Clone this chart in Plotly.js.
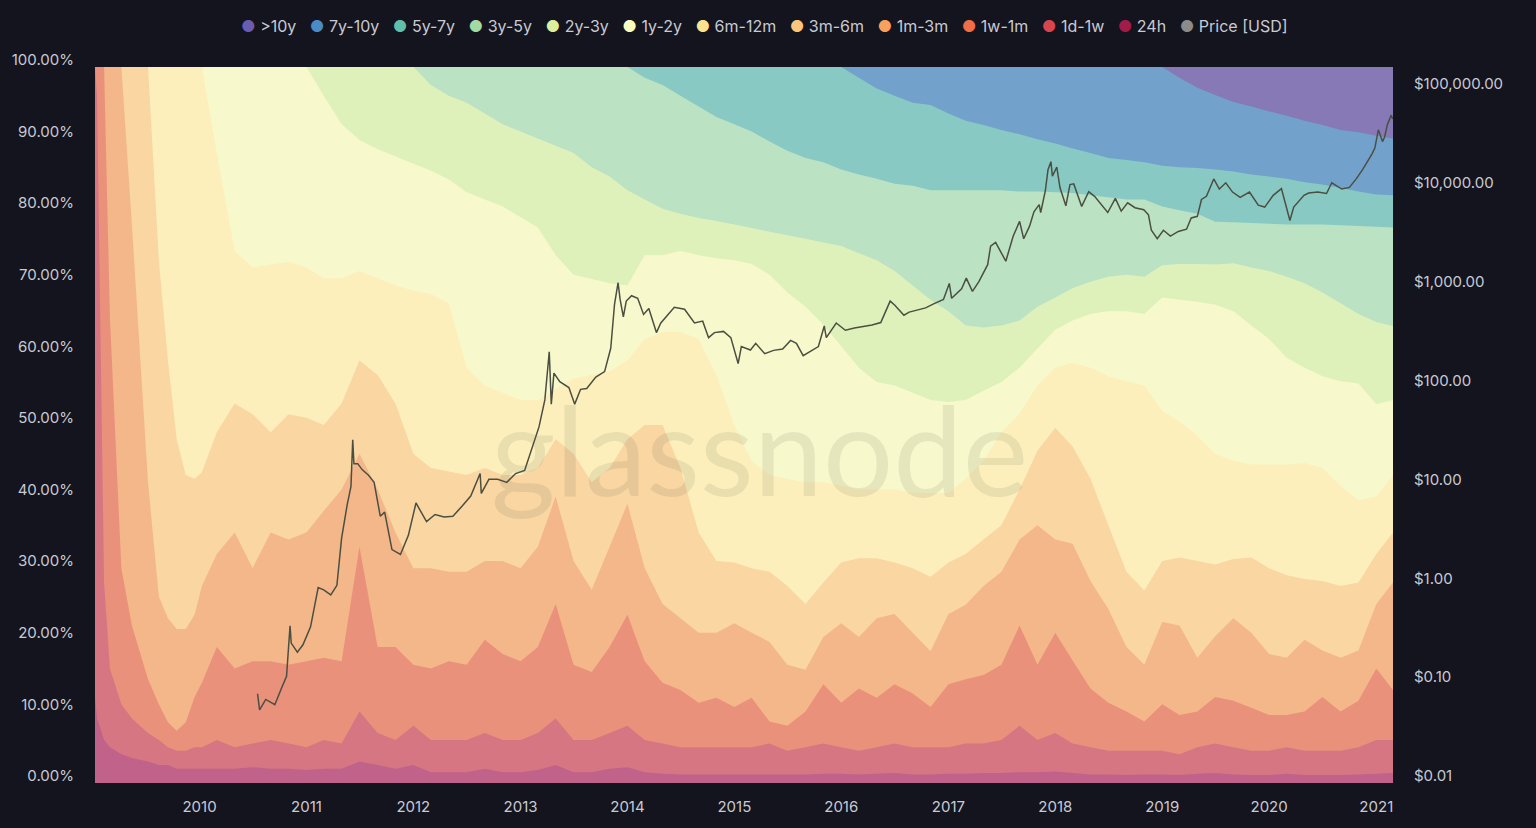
<!DOCTYPE html>
<html>
<head>
<meta charset="utf-8">
<script src="https://cdn.plot.ly/plotly-3.0.1.min.js"></script>
<style>
  html, body { margin: 0; padding: 0; background: #13141e; }
  #chart { width: 1536px; height: 828px; }
</style>
</head>
<body>
<div id="chart"></div>
<script>
// sample dates of the HODL waves (one value per date in every band array)
var dates = [
  '2009-01-09','2009-01-16','2009-02-09','2009-03-01','2009-04-09','2009-05-15','2009-07-09','2009-08-15','2009-09-15','2009-10-15','2009-11-15','2009-12-15',
  '2010-01-09','2010-03-01','2010-05-01','2010-07-01','2010-09-01','2010-11-01',
  '2011-01-01','2011-03-01','2011-05-01','2011-07-01','2011-09-01','2011-11-01',
  '2012-01-01','2012-03-01','2012-05-01','2012-07-01','2012-09-01','2012-11-01',
  '2013-01-01','2013-03-01','2013-05-01','2013-07-01','2013-09-01','2013-11-01',
  '2014-01-01','2014-03-01','2014-05-01','2014-07-01','2014-09-01','2014-11-01',
  '2015-01-01','2015-03-01','2015-05-01','2015-07-01','2015-09-01','2015-11-01',
  '2016-01-01','2016-03-01','2016-05-01','2016-07-01','2016-09-01','2016-11-01',
  '2017-01-01','2017-03-01','2017-05-01','2017-07-01','2017-09-01','2017-11-01',
  '2018-01-01','2018-03-01','2018-05-01','2018-07-01','2018-09-01','2018-11-01',
  '2019-01-01','2019-03-01','2019-05-01','2019-07-01','2019-09-01','2019-11-01',
  '2020-01-01','2020-03-01','2020-05-01','2020-07-01','2020-09-01','2020-11-01',
  '2021-01-01','2021-02-27'
];

// share of supply (%) younger than each age
var under24h = [
  12, 9, 6, 5, 4, 3.5, 3, 2.5, 2.5, 2, 2, 2,
  2, 2, 2, 2.2, 2, 2,
  1.8, 2, 2, 3, 2.5, 2,
  2.5, 1.5, 1.5, 1.5, 2, 1.5,
  1.5, 1.8, 2.5, 1.5, 1.5, 2,
  2.2, 1.5, 1.3, 1.2, 1.2, 1.2,
  1.2, 1.2, 1.2, 1.2, 1.2, 1.3,
  1.3, 1.2, 1.3, 1.4, 1.2, 1.2,
  1.3, 1.3, 1.4, 1.4, 1.5, 1.5,
  1.6, 1.4, 1.2, 1.2, 1.1, 1.2,
  1.2, 1.1, 1.3, 1.4, 1.2, 1.1,
  1.1, 1.3, 1.1, 1.1, 1.1, 1.2,
  1.3, 1.4
];
var under1w = [
  100, 96, 28, 16, 11, 9, 7, 6, 5, 4.5, 4.5, 5,
  5, 6, 5, 5.5, 6, 5.5,
  5, 6, 5.5, 10, 7, 6,
  8, 6, 6, 6, 7, 6,
  6, 7, 9, 6, 6, 7,
  8, 6, 5.5, 5, 5, 5,
  5, 5, 5.5, 4.5, 5, 5.5,
  5, 4.5, 5, 5.5, 5, 5,
  5, 5.5, 5.5, 6, 8, 6,
  7, 5.5, 5, 4.5, 4.5, 4.5,
  4.5, 4, 5, 5.5, 5, 4.5,
  4.5, 5, 4.5, 4.5, 4.5, 5,
  6, 6
];
var under1m = [
  100, 100, 100, 65, 30, 22, 14.5, 11, 8.5, 7.3, 8.5, 12,
  14, 19, 16, 17, 17, 16.5,
  17, 17.5, 17, 33, 19, 19,
  16.5, 16, 17, 16.5, 20, 18,
  17, 19, 25, 16.5, 15.5, 19,
  23.5, 17, 14, 13, 11.2, 11.9,
  10.6, 11.9, 8.6, 8, 10, 13.8,
  11.2, 13.2, 11.9, 13.8, 12.5, 10.6,
  13.8, 14.5, 15.1, 16.5, 22, 16.5,
  21, 17.1, 13.2, 11.2, 10, 8.6,
  11, 9.5, 10, 12, 11.5, 10.5,
  9.5, 9.5, 10, 12, 10, 11.5,
  16, 13
];
var under3m = [
  100, 100, 100, 100, 100, 78, 42, 26, 23, 21.5, 21.5, 23.5,
  27.5, 32, 35, 30, 35, 34,
  35, 38, 41, 46, 41, 35,
  30, 30, 29.5, 29.5, 31, 31,
  30, 33, 40, 31, 27, 33,
  39, 30, 25, 23, 21, 21,
  22.3, 21, 19.7, 16.5, 15.8, 20.4,
  22.3, 20.4, 23, 23.6, 21, 18.4,
  23.6, 24.9, 27.5, 29.5, 34, 36,
  34, 33.4, 28.2, 24.3, 19, 16.5,
  22.5, 22, 17.5, 20.5, 23, 21,
  18, 17.5, 20, 18.5, 17.5, 18.5,
  25, 28
];
var under6m = [
  100, 100, 100, 100, 100, 100, 100, 73, 59, 48, 43, 42.5,
  43.4, 49, 53, 51.5, 49, 51.5,
  51, 50, 53, 59, 57, 53,
  46, 44, 43.5, 43, 44, 43,
  43, 44, 48, 46, 42, 44,
  48, 50, 50, 44, 35, 31,
  30.8, 30, 29.5, 27.5, 25, 28,
  30.8, 31.4, 31.4, 30.8, 30, 28.8,
  30.8, 32, 34, 36, 41, 46.4,
  49.6, 47, 42.5, 36, 29.5, 26.9,
  31, 31.5, 31, 30.5, 31.3, 31.5,
  30, 29, 28.5, 28.2, 27.5, 28,
  32, 35
];
var under12m = [
  100, 100, 100, 100, 100, 100, 100, 100, 100, 100, 100, 100,
  100, 88, 74.3, 72, 72.4, 72.8,
  72, 70.5, 70.5, 71.5, 70.5, 69.5,
  68.8, 68.3, 67, 58, 55.5, 54.5,
  53.5, 53.5, 55, 56.5, 57, 57.5,
  59, 62, 63, 63, 62, 57,
  50, 45, 43, 42.5, 42, 42,
  41.5, 41, 41, 41, 40.5, 40.5,
  40.5, 42.5, 45, 49, 51.6, 55.5,
  58, 58.7, 58, 56.8, 56.1, 55.5,
  52, 50.5, 48.5, 46, 45, 44.5,
  44.5, 44.5, 44.7, 44, 41.5, 39.5,
  40, 43
];
var under2y = [
  100, 100, 100, 100, 100, 100, 100, 100, 100, 100, 100, 100,
  100, 100, 100, 100, 100, 100,
  100, 96, 92, 89.8, 88.5, 87.5,
  86.5, 85.5, 84.3, 82.5, 81.5, 80.5,
  79, 77.6, 73.7, 71, 70.4, 69.8,
  69.5, 73.7, 73.7, 74.3, 73.7, 73.3,
  73, 72.5, 71, 68.5, 66.5, 64,
  61, 58, 56, 55.5, 54.5, 53.5,
  53.2, 53.5, 54.8, 56, 58, 60.7,
  63.3, 64.6, 65.5, 65.9, 65.9, 65.5,
  67.8, 67.5, 67.2, 66.8, 65.9, 63.9,
  62, 59.4, 58, 56.8, 56.1, 55.8,
  52.9, 53.5
];
var under3y = [
  100, 100, 100, 100, 100, 100, 100, 100, 100, 100, 100, 100,
  100, 100, 100, 100, 100, 100,
  100, 100, 100, 100, 100, 100,
  100, 97.5, 96, 95, 93.5, 92,
  91, 90, 89, 88, 86, 84.7,
  82.8, 81.5, 80.2, 79.5, 78.9, 78.5,
  78, 77.5, 77, 76.5, 76, 75.5,
  75, 74, 73, 71.5, 69.5, 67.5,
  65.9, 63.9, 63.6, 63.9, 64.6, 66.5,
  67.8, 69.1, 70, 70.7, 71, 70.7,
  72.3, 72.5, 72.5, 72.4, 72.6, 72,
  71.5, 70.7, 69.8, 68.5, 67, 65.5,
  64.4, 63.8
];
var under5y = [
  100, 100, 100, 100, 100, 100, 100, 100, 100, 100, 100, 100,
  100, 100, 100, 100, 100, 100,
  100, 100, 100, 100, 100, 100,
  100, 100, 100, 100, 100, 100,
  100, 100, 100, 100, 100, 100,
  100, 98.5, 97.5, 96, 94.5, 93,
  92, 91, 89.6, 88.3, 87.3, 86.7,
  85.7, 85, 84.4, 83.7, 83.4, 82.8,
  82.8, 82.8, 82.8, 82.8, 82.6, 82.6,
  82.5, 82.4, 82.1, 81.8, 81.5, 81.5,
  80.5, 80, 79.5, 78.4, 78.3, 78.2,
  78.1, 78, 78, 78, 77.9, 77.8,
  77.7, 77.6
];
var under7y = [
  100, 100, 100, 100, 100, 100, 100, 100, 100, 100, 100, 100,
  100, 100, 100, 100, 100, 100,
  100, 100, 100, 100, 100, 100,
  100, 100, 100, 100, 100, 100,
  100, 100, 100, 100, 100, 100,
  100, 100, 100, 100, 100, 100,
  100, 100, 100, 100, 100, 100,
  100, 98.5, 97, 96, 95, 94.7,
  93.5, 92.5, 91.9, 91.2, 90.6, 89.9,
  89.3, 88.6, 88, 87.3, 87, 86.7,
  86.2, 86, 85.9, 85.7, 85.4, 85,
  84.7, 84.4, 83.9, 83.6, 83.1, 82.6,
  82.2, 82.1
];
var under10y = [
  100, 100, 100, 100, 100, 100, 100, 100, 100, 100, 100, 100,
  100, 100, 100, 100, 100, 100,
  100, 100, 100, 100, 100, 100,
  100, 100, 100, 100, 100, 100,
  100, 100, 100, 100, 100, 100,
  100, 100, 100, 100, 100, 100,
  100, 100, 100, 100, 100, 100,
  100, 100, 100, 100, 100, 100,
  100, 100, 100, 100, 100, 100,
  100, 100, 100, 100, 100, 100,
  100, 98.5, 97.1, 96.1, 95.1, 94.5,
  93.8, 93.2, 92.5, 91.9, 91.2, 90.9,
  90.4, 90
];
// whole supply, for the oldest band
var totalDates = ['2009-01-09', '2021-02-27'];
var totalShare = [100, 100];

// BTC price (USD)
var priceDates = [
  '2010-07-18','2010-07-25','2010-08-15','2010-09-15','2010-10-07','2010-10-25','2010-11-06','2010-11-10','2010-12-01','2010-12-20',
  '2011-01-15','2011-02-10','2011-03-01','2011-03-25','2011-04-15','2011-05-01','2011-05-20','2011-06-02','2011-06-08','2011-06-12',
  '2011-06-25','2011-07-10','2011-08-01','2011-08-20','2011-09-10','2011-09-25','2011-10-20','2011-11-18','2011-12-15',
  '2012-01-10','2012-02-15','2012-03-15','2012-04-15','2012-05-15','2012-06-15','2012-07-15','2012-08-16','2012-08-20','2012-09-15',
  '2012-10-15','2012-11-15','2012-12-15',
  '2013-01-15','2013-02-15','2013-03-05','2013-03-25','2013-04-09','2013-04-16','2013-04-25','2013-05-15','2013-06-15','2013-07-05',
  '2013-07-25','2013-08-15','2013-09-15','2013-10-15','2013-11-05','2013-11-18','2013-11-30','2013-12-07','2013-12-18','2013-12-28',
  '2014-01-15','2014-02-05','2014-02-25','2014-03-15','2014-04-10','2014-04-25','2014-05-25','2014-06-10','2014-07-15','2014-08-18',
  '2014-09-15','2014-10-05','2014-10-25','2014-11-25','2014-12-20',
  '2015-01-14','2015-01-25','2015-02-25','2015-03-15','2015-04-15','2015-05-15','2015-06-15','2015-07-12','2015-08-01','2015-08-24',
  '2015-09-15','2015-10-15','2015-11-04','2015-11-11','2015-12-15',
  '2016-01-15','2016-02-15','2016-03-15','2016-04-15','2016-05-15','2016-06-16','2016-07-02','2016-08-02','2016-08-20','2016-09-15',
  '2016-10-15','2016-11-15','2016-12-15',
  '2017-01-04','2017-01-12','2017-02-15','2017-03-03','2017-03-24','2017-04-15','2017-05-15','2017-05-25','2017-06-11','2017-07-16',
  '2017-08-10','2017-09-01','2017-09-15','2017-10-05','2017-10-20','2017-11-07','2017-11-12','2017-11-28','2017-12-07','2017-12-17',
  '2017-12-22',
  '2018-01-06','2018-01-17','2018-02-06','2018-02-20','2018-03-05','2018-04-01','2018-04-25','2018-05-15','2018-06-29','2018-07-25',
  '2018-08-14','2018-09-05','2018-09-30','2018-10-30','2018-11-15','2018-11-25','2018-12-15',
  '2019-01-05','2019-01-29','2019-02-25','2019-03-25','2019-04-10','2019-05-01','2019-05-15','2019-06-01','2019-06-26','2019-07-15',
  '2019-08-06','2019-08-29','2019-09-24','2019-10-26','2019-11-25','2019-12-17',
  '2020-01-15','2020-02-12','2020-03-12','2020-03-25','2020-04-29','2020-05-15','2020-06-15','2020-07-15','2020-08-02','2020-09-05',
  '2020-10-01','2020-10-25','2020-11-15','2020-12-01','2020-12-17','2020-12-27',
  '2021-01-08','2021-01-22','2021-01-29','2021-02-08','2021-02-21','2021-02-26'
];
var priceUsd = [
  0.08, 0.055, 0.07, 0.062, 0.09, 0.12, 0.39, 0.26, 0.21, 0.25,
  0.38, 0.95, 0.9, 0.8, 1.0, 3.0, 6.5, 10, 29.6, 17,
  17, 14.8, 13, 11, 5, 5.5, 2.3, 2.05, 3.2,
  6.8, 4.4, 5.2, 4.9, 5.0, 6.3, 8.0, 13.5, 8.5, 11.8,
  11.8, 11.0, 13.5,
  14.5, 27, 40, 75, 230, 68, 140, 115, 100, 68,
  96, 98, 128, 145, 250, 700, 1150, 780, 520, 750,
  850, 800, 550, 630, 360, 450, 580, 650, 620, 450,
  470, 320, 360, 370, 320,
  175, 260, 240, 280, 220, 238, 245, 300, 280, 210,
  230, 260, 420, 320, 450,
  380, 400, 415, 430, 455, 750, 680, 540, 580, 610,
  640, 710, 780,
  1130, 800, 1000, 1280, 940, 1180, 1750, 2700, 2950, 1900,
  3400, 4800, 3200, 4300, 6000, 7100, 5900, 9800, 16000, 19300,
  13800,
  17000, 10500, 6900, 11300, 11500, 6800, 9600, 8600, 5900, 8200,
  6100, 7400, 6600, 6300, 5600, 3900, 3200,
  3900, 3400, 3800, 4000, 5200, 5400, 8000, 8600, 12900, 10200,
  11800, 9500, 8400, 9500, 7000, 6700,
  8800, 10300, 4900, 6700, 8800, 9300, 9500, 9200, 11800, 10200,
  10600, 13000, 16000, 19000, 23000, 26500,
  40500, 30800, 34000, 46000, 57000, 52000
];

// bands from oldest (top) to youngest (bottom); each is painted from 0 up to its top edge
var bandNames = ['>10y', '7y-10y', '5y-7y', '3y-5y', '2y-3y', '1y-2y', '6m-12m', '3m-6m', '1m-3m', '1w-1m', '1d-1w', '24h'];
var bandTops = [totalShare, under10y, under7y, under5y, under3y, under2y, under12m, under6m, under3m, under1m, under1w, under24h];
var fillColors = ['#8679b5', '#72a2cb', '#89c9c3', '#bce2c4', '#dff1bb', '#f7f9cc', '#fcefbb', '#f9d6a2', '#f4b78a', '#ea917b', '#d67683', '#c0628a'];
var dotColors = ['#6a5cb0', '#4a8cc6', '#5fbfa8', '#a3d9a3', '#dcef9c', '#fdfdc0', '#fde38e', '#fcc67a', '#f8a05e', '#ef6e48', '#d8454f', '#a31c49'];
var priceDot = '#8b8b8b';

var pctTicks = [0, 10, 20, 30, 40, 50, 60, 70, 80, 90, 100];
var pctLabels = ['0.00%', '10.00%', '20.00%', '30.00%', '40.00%', '50.00%', '60.00%', '70.00%', '80.00%', '90.00%', '100.00%'];
var priceTicks = [0.01, 0.1, 1, 10, 100, 1000, 10000, 100000];
var priceLabels = ['$0.01', '$0.10', '$1.00', '$10.00', '$100.00', '$1,000.00', '$10,000.00', '$100,000.00'];

var traces = [];
bandNames.forEach(function (name, i) {
  traces.push({
    type: 'scatter', mode: 'none', name: name,
    x: i == 0 ? totalDates : dates, y: bandTops[i],
    fill: 'tozeroy', fillcolor: fillColors[i],
    line: {width: 0}, hoverinfo: 'skip'
  });
});
traces.push({
  type: 'scatter', mode: 'lines', name: 'Price [USD]',
  x: priceDates, y: priceUsd, yaxis: 'y2',
  line: {color: '#4a4f41', width: 1.5}, hoverinfo: 'skip'
});

// legend as one line of text with coloured dots (tighter than plotly's own legend)
var legendNames = bandNames.concat(['Price [USD]']);
var legendDots = dotColors.concat([priceDot]);
var legendText = legendNames.map(function (name, i) {
  return '<span style="color:' + legendDots[i] + '">\u25CF</span> ' + name.replace('>', '&gt;');
}).join('&nbsp;&nbsp;&nbsp;');

var axisFont = {family: 'Inter, Roboto, sans-serif', size: 15, color: '#c9cad3'};

var layout = {
  width: 1536, height: 828,
  paper_bgcolor: '#13141e', plot_bgcolor: '#13141e',
  margin: {l: 95, r: 143, t: 67, b: 45},
  font: axisFont,
  showlegend: false,
  xaxis: {type: 'date', range: ['2009-01-09', '2021-02-27'], tick0: '2010-01-01', dtick: 'M12',
    tickformat: '%Y', showgrid: false, zeroline: false, showline: false, ticks: '',
    ticklabelstandoff: 13, tickfont: axisFont},
  yaxis: {range: [0, 100], tickvals: pctTicks, ticktext: pctLabels, showgrid: false,
    zeroline: false, showline: false, ticks: '', ticklabelstandoff: 20, ticklabelshift: -7,
    tickfont: axisFont},
  yaxis2: {type: 'log', overlaying: 'y', side: 'right', range: [-2, 5.243],
    tickvals: priceTicks, ticktext: priceLabels, showgrid: false, zeroline: false,
    showline: false, ticks: '', ticklabelstandoff: 20, ticklabelshift: -7, tickfont: axisFont},
  annotations: [
    {text: 'glassnode', xref: 'paper', yref: 'paper', x: 0.512, y: 0.468, showarrow: false,
      font: {family: 'Lato, sans-serif', size: 124, color: 'rgba(110,105,85,0.13)'}},
    {text: legendText, xref: 'paper', yref: 'paper', x: 0.516, y: 1.057, xanchor: 'center',
      yanchor: 'middle', showarrow: false,
      font: {family: 'Inter, Roboto, sans-serif', size: 16, color: '#c9cad3'}}
  ]
};

Plotly.newPlot('chart', traces, layout, {displayModeBar: false, staticPlot: true});
</script>
</body>
</html>
